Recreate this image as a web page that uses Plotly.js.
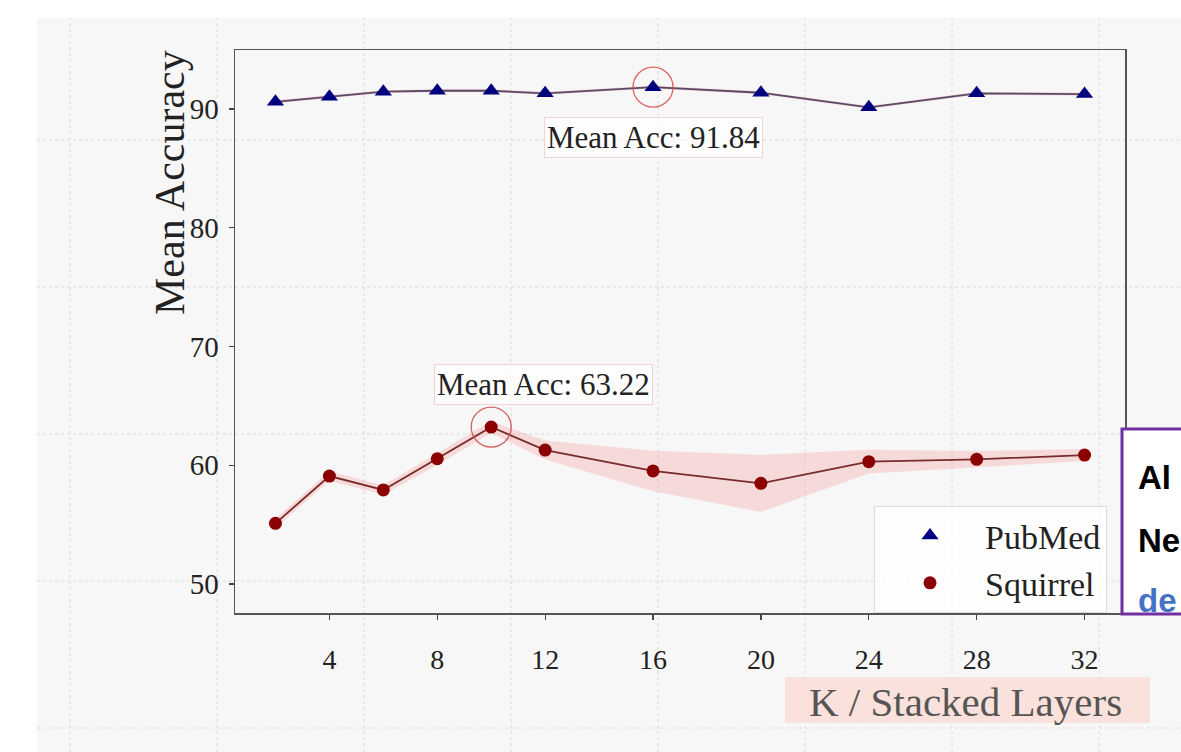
<!DOCTYPE html>
<html>
<head>
<meta charset="utf-8">
<script src="https://cdn.plot.ly/plotly-3.0.1.min.js"></script>
<style>html,body{margin:0;padding:0;background:#fff;}#chart{width:1181px;height:752px;}</style>
</head>
<body>
<div id="chart"></div>
<script>
// ---- data ----
const layers = [2, 4, 6, 8, 10, 12, 16, 20, 24, 28, 32];
const pubmedMean = [90.61, 91.04, 91.46, 91.54, 91.54, 91.32, 91.84, 91.37, 90.14, 91.32, 91.26];
const pubmedStd  = [0.12, 0.12, 0.12, 0.12, 0.12, 0.12, 0.12, 0.12, 0.12, 0.12, 0.12];
const squirrelMean = [55.11, 59.09, 57.92, 60.55, 63.22, 61.28, 59.52, 58.48, 60.30, 60.50, 60.86];
const squirrelStd  = [0.4, 0.4, 0.4, 0.5, 0.5, 0.8, 1.7, 2.4, 1.0, 0.7, 0.5];
const xTicks = [4, 8, 12, 16, 20, 24, 28, 32];
const yTicks = [50, 60, 70, 80, 90];
const seriesNames = ["PubMed", "Squirrel"];

// ---- helpers ----
const W = 1181, H = 752;
const px = v => v / W;
const py = v => 1 - v / H;
function band(mean, std) {
  const up = mean.map((m, i) => m + std[i]);
  const lo = mean.map((m, i) => m - std[i]);
  return { x: layers.concat(layers.slice().reverse()), y: up.concat(lo.slice().reverse()) };
}
function argmax(a) { let k = 0; a.forEach((v, i) => { if (v > a[k]) k = i; }); return k; }
const serif = "Liberation Serif, Times New Roman, serif";
const sans = "Liberation Sans, Arial, sans-serif";

const pb = band(pubmedMean, pubmedStd);
const sb = band(squirrelMean, squirrelStd);
const pk = argmax(pubmedMean), sk = argmax(squirrelMean);

const traces = [
  { x: pb.x, y: pb.y, fill: 'toself', fillcolor: 'rgba(240,120,120,0.35)', line: { width: 0 }, mode: 'lines', showlegend: false, hoverinfo: 'skip' },
  { x: sb.x, y: sb.y, fill: 'toself', fillcolor: 'rgba(245,130,130,0.25)', line: { width: 0 }, mode: 'lines', showlegend: false, hoverinfo: 'skip' },
  { x: layers, y: pubmedMean, mode: 'lines', line: { color: '#5a4b68', width: 1.8 }, showlegend: false },
  { x: layers, y: squirrelMean, mode: 'lines', line: { color: '#7a2b2b', width: 1.8 }, showlegend: false },
  { x: layers, y: pubmedMean, mode: 'markers', name: seriesNames[0], marker: { symbol: 'triangle-up', size: 15, color: '#00007f' } },
  { x: layers, y: squirrelMean, mode: 'markers', name: seriesNames[1], marker: { symbol: 'circle', size: 13, color: '#8b0000' } },
  { x: [layers[pk]], y: [pubmedMean[pk]], mode: 'markers', showlegend: false, marker: { symbol: 'circle-open', size: 40, color: 'rgba(220,70,70,0.85)', line: { width: 1.3 } } },
  { x: [layers[sk]], y: [squirrelMean[sk]], mode: 'markers', showlegend: false, marker: { symbol: 'circle-open', size: 40, color: 'rgba(200,70,70,0.85)', line: { width: 1.3 } } }
];

// slide grid
const shapes = [
  { type: 'rect', xref: 'paper', yref: 'paper', x0: px(37), x1: 1, y0: 0, y1: py(18), fillcolor: '#f7f7f7', line: { width: 0 }, layer: 'below' }
];
[70, 217, 364, 511, 658, 805, 952, 1099].forEach(v => shapes.push({ type: 'line', xref: 'paper', yref: 'paper', x0: px(v), x1: px(v), y0: 0, y1: py(18), line: { color: '#dadada', width: 1, dash: 'dot' }, layer: 'below' }));
[140, 287, 434, 581, 728].forEach(v => shapes.push({ type: 'line', xref: 'paper', yref: 'paper', x0: px(37), x1: 1, y0: py(v), y1: py(v), line: { color: '#dadada', width: 1, dash: 'dot' }, layer: 'below' }));
// x title highlight
shapes.push({ type: 'rect', xref: 'paper', yref: 'paper', x0: px(785), x1: px(1150), y0: py(723), y1: py(677), fillcolor: 'rgba(250,222,216,0.9)', line: { width: 0 } });
// right text box
shapes.push({ type: 'rect', xref: 'paper', yref: 'paper', x0: px(1122), x1: px(1195), y0: py(614), y1: py(429), fillcolor: '#ffffff', line: { color: '#7030a0', width: 3 } });

const annFont = { family: serif, size: 31, color: '#222' };
const annotations = [
  { xref: 'x', yref: 'y', x: layers[pk], y: pubmedMean[pk], yshift: -50, xanchor: 'center', yanchor: 'middle', text: 'Mean Acc: ' + pubmedMean[pk].toFixed(2), showarrow: false, font: annFont, bgcolor: 'rgba(255,255,255,0.75)', bordercolor: '#f2d4d4', borderwidth: 1, borderpad: 2 },
  { xref: 'x', yref: 'y', x: layers[sk], y: squirrelMean[sk], xshift: 52, yshift: 43, xanchor: 'center', yanchor: 'middle', text: 'Mean Acc: ' + squirrelMean[sk].toFixed(2), showarrow: false, font: annFont, bgcolor: 'rgba(255,255,255,0.75)', bordercolor: '#f2d4d4', borderwidth: 1, borderpad: 2 },
  { xref: 'paper', yref: 'paper', x: px(170), y: py(183), xanchor: 'center', yanchor: 'middle', text: 'Mean Accuracy', textangle: -90, showarrow: false, font: { family: serif, size: 42, color: '#222' } },
  { xref: 'paper', yref: 'paper', x: px(965), y: py(702), xanchor: 'center', yanchor: 'middle', text: 'K / Stacked Layers', showarrow: false, borderpad: 0, font: { family: serif, size: 41, color: '#555' } },
  { xref: 'paper', yref: 'paper', x: px(1137), y: py(478), xanchor: 'left', yanchor: 'middle', text: '<b>Al</b>', showarrow: false, borderpad: 0, font: { family: sans, size: 33, color: '#000' } },
  { xref: 'paper', yref: 'paper', x: px(1137), y: py(540), xanchor: 'left', yanchor: 'middle', text: '<b>Ne</b>', showarrow: false, borderpad: 0, font: { family: sans, size: 33, color: '#000' } },
  { xref: 'paper', yref: 'paper', x: px(1137), y: py(600), xanchor: 'left', yanchor: 'middle', text: '<b>de</b>', showarrow: false, borderpad: 0, font: { family: sans, size: 33, color: '#4472c4' } }
];

const layout = {
  width: W, height: H,
  margin: { l: 0, r: 0, t: 0, b: 0 },
  paper_bgcolor: '#ffffff',
  plot_bgcolor: 'rgba(0,0,0,0)',
  font: { family: serif, color: '#222' },
  xaxis: {
    domain: [px(235), px(1125)], range: [0.5, 33.5],
    tickvals: xTicks, ticktext: xTicks.map(String),
    ticks: 'outside', ticklen: 5, tickwidth: 1.2, tickcolor: '#444',
    showline: true, mirror: true, linecolor: '#555', linewidth: 1.5,
    showgrid: false, zeroline: false, ticklabelstandoff: 16,
    tickfont: { family: serif, size: 28, color: '#222' }
  },
  yaxis: {
    domain: [py(613), py(50)], range: [47.56, 94.97],
    tickvals: yTicks, ticktext: yTicks.map(String),
    ticks: 'outside', ticklen: 5, tickwidth: 1.2, tickcolor: '#444',
    showline: true, mirror: true, linecolor: '#555', linewidth: 1.5,
    showgrid: false, zeroline: false, ticklabelstandoff: 4,
    tickfont: { family: serif, size: 29, color: '#222' }
  },
  legend: {
    x: px(1107), y: py(613), xanchor: 'right', yanchor: 'bottom',
    bgcolor: 'rgba(255,255,255,0.8)', bordercolor: '#dddddd', borderwidth: 1,
    font: { family: serif, size: 34, color: '#222' },
    itemwidth: 100, tracegroupgap: 0
  },
  shapes: shapes,
  annotations: annotations,
  showlegend: true
};

Plotly.newPlot('chart', traces, layout, { displayModeBar: false, staticPlot: true });
</script>
</body>
</html>
